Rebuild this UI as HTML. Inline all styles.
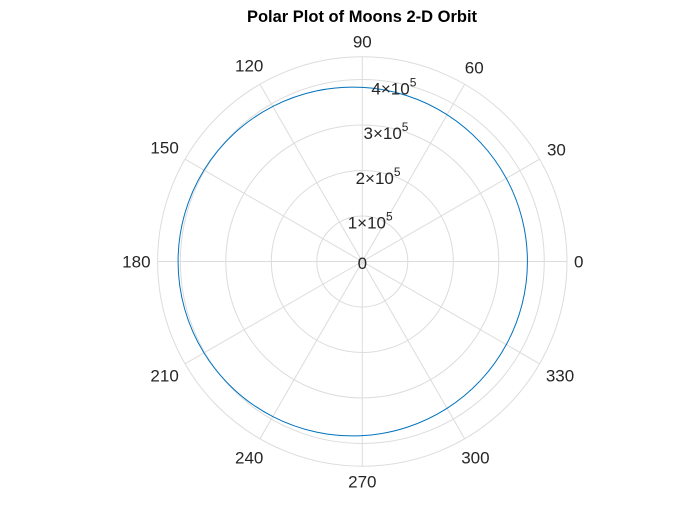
<!DOCTYPE html>
<html><head><meta charset="utf-8"><style>
html,body{margin:0;padding:0;background:#fff;}
svg{display:block;font-family:"Liberation Sans",Arial,sans-serif;}
</style></head><body>
<svg id="chart" width="700" height="525" viewBox="0 0 700 525">
<rect width="700" height="525" fill="#fff"/>
<text x="362" y="22" text-anchor="middle" font-size="16.5" font-weight="bold" fill="#000">Polar Plot of Moons 2-D Orbit</text>
<g id="grid"></g><g id="series"></g><g id="labels"></g>
</svg>
<script>
const thetaDeg = [0,15,30,45,60,75,90,105,120,135,150,165,180,195,210,225,240,255,270,285,300,315,330,345];
const radius = [363000,363640,365530,368590,372660,377500,382850,388350,393620,398260,401890,404210,405000,404210,401890,398260,393620,388350,382850,377500,372660,368590,365530,363640];
const rTicks = [100000,200000,300000,400000];
const rTickLabels = ["1","2","3","4"];
const thetaTicks = [0,30,60,90,120,150,180,210,240,270,300,330];
const rMax = 450000;

const cx=362.3, cy=261.5, R=204.7;
const NS="http://www.w3.org/2000/svg";
function rScale(r){return r/rMax*R;}
function pt(r,deg){const a=deg*Math.PI/180;return [cx+rScale(r)*Math.cos(a), cy-rScale(r)*Math.sin(a)];}
function mk(tag,attrs,parent){const e=document.createElementNS(NS,tag);for(const k in attrs)e.setAttribute(k,attrs[k]);parent.appendChild(e);return e;}
const grid=document.getElementById('grid'), series=document.getElementById('series'), labels=document.getElementById('labels');

rTicks.concat([rMax]).forEach((r,i)=>{
  const c=mk('circle',{cx:cx,cy:cy,r:rScale(r),fill:'none',stroke:'#dcdcdc','stroke-width':1},grid);
  
  
});
thetaTicks.forEach(t=>{
  const [x,y]=pt(rMax,t);
  const l=mk('line',{x1:cx,y1:cy,x2:x,y2:y,stroke:'#dcdcdc','stroke-width':1},grid);
  
  
  const a=t*Math.PI/180;
  const w=String(t).length*9.5, h=17;
  const off=7+Math.abs(Math.cos(a))*w/2+Math.abs(Math.sin(a))*h/2;
  const tx=cx+(R+off)*Math.cos(a), ty=cy-(R+off)*Math.sin(a);
  const tl=mk('text',{x:tx,y:ty+6,'text-anchor':'middle','font-size':17,fill:'#262626'},labels);
  tl.textContent=String(t);
  
  
});
const P=thetaDeg.map((t,i)=>pt(radius[i],t));
let d='M'+P[0][0].toFixed(2)+','+P[0][1].toFixed(2);
const n=P.length;
for(let i=0;i<n;i++){
  const p0=P[(i-1+n)%n],p1=P[i],p2=P[(i+1)%n],p3=P[(i+2)%n];
  const c1=[p1[0]+(p2[0]-p0[0])/6,p1[1]+(p2[1]-p0[1])/6];
  const c2=[p2[0]-(p3[0]-p1[0])/6,p2[1]-(p3[1]-p1[1])/6];
  d+=' C'+c1.map(v=>v.toFixed(2)).join(',')+' '+c2.map(v=>v.toFixed(2)).join(',')+' '+p2.map(v=>v.toFixed(2)).join(',');
}
const orbit=mk('path',{d:d+'Z',fill:'none',stroke:'#0072bd','stroke-width':1},series);



const z=mk('text',{x:cx,y:cy+7.5,'text-anchor':'middle','font-size':17,fill:'#262626'},labels);
z.textContent='0';


rTicks.forEach((r,i)=>{
  const [x,y]=pt(r,80);
  const t=mk('text',{x:x,y:y+12,'text-anchor':'middle','font-size':17,fill:'#262626'},labels);
  const a=document.createElementNS(NS,'tspan');a.textContent=rTickLabels[i]+'\u00d710';t.appendChild(a);
  const b=document.createElementNS(NS,'tspan');b.setAttribute('dy','-8');b.setAttribute('font-size','12');b.textContent='5';t.appendChild(b);
  
  
});
</script>
</body></html>
